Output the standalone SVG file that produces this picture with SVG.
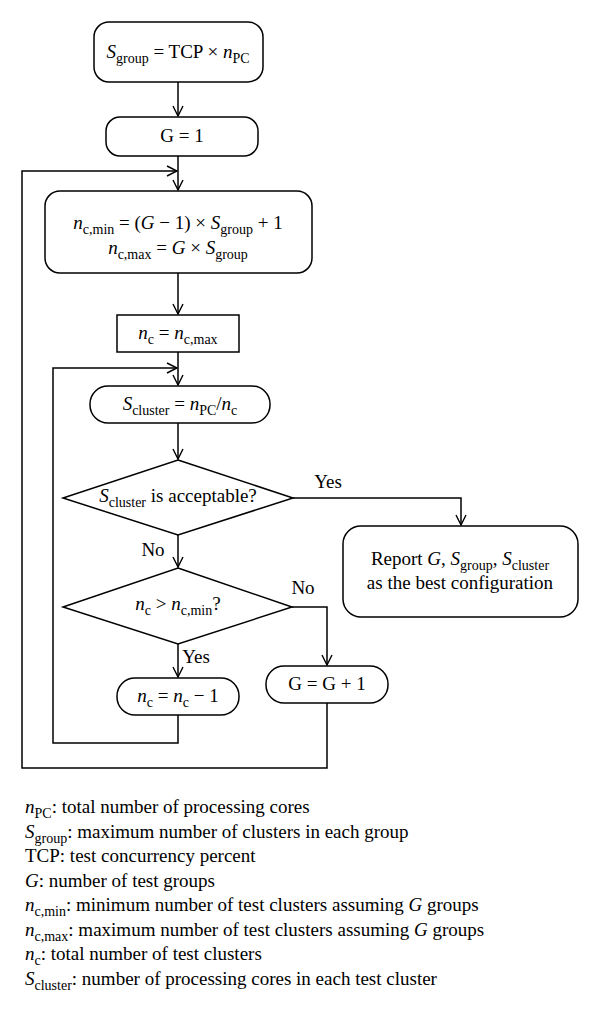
<svg xmlns="http://www.w3.org/2000/svg" width="600" height="1011" viewBox="0 0 600 1011">
<defs>
<marker id="arr" viewBox="0 0 12 12" refX="11" refY="6" markerWidth="12" markerHeight="12" markerUnits="userSpaceOnUse" orient="auto">
<path d="M1,1 L11,6 L1,11" fill="none" stroke="#000" stroke-width="1.4"/>
</marker>
<style>
.b{fill:#fff;stroke:#000;stroke-width:1.5}
.c{fill:none;stroke:#000;stroke-width:1.5}
text{font-family:"Liberation Serif","Times New Roman",serif;font-size:19px;fill:#000}
.m{text-anchor:middle}
.i{font-style:italic}
.s{font-size:14px}
</style>
</defs>
<rect width="600" height="1011" fill="#fff"/>
<g id="connectors">
<path class="c" d="M178,82 V116" marker-end="url(#arr)"/>
<path class="c" d="M178,156 V190" marker-end="url(#arr)"/>
<path class="c" d="M178,273 V314" marker-end="url(#arr)"/>
<path class="c" d="M178,352 V385" marker-end="url(#arr)"/>
<path class="c" d="M178,423 V459" marker-end="url(#arr)"/>
<path class="c" d="M178,535 V567" marker-end="url(#arr)"/>
<path class="c" d="M178,644 V677" marker-end="url(#arr)"/>
<path class="c" d="M293,498 H461 V525" marker-end="url(#arr)"/>
<path class="c" d="M292,607 H327 V665" marker-end="url(#arr)"/>
<path class="c" d="M178,715 V743 H53 V368 H177" marker-end="url(#arr)"/>
<path class="c" d="M327,703 V768 H22 V171 H177" marker-end="url(#arr)"/>
<text class="m" x="328" y="488">Yes</text>
<text class="m" x="153" y="556">No</text>
<text class="m" x="303" y="594">No</text>
<text class="m" x="196" y="663">Yes</text>
</g>
<g id="n1">
<rect class="b" x="94" y="22" width="169" height="60" rx="15"/>
<text class="m" x="178" y="58"><tspan class="i">S</tspan><tspan class="s" dy="5">group</tspan><tspan dy="-5"> = TCP × </tspan><tspan class="i">n</tspan><tspan class="s" dy="5">PC</tspan></text>
</g>
<g id="n2">
<rect class="b" x="106" y="117" width="152" height="39" rx="14"/>
<text class="m" x="182" y="142">G = 1</text>
</g>
<g id="n3">
<rect class="b" x="45" y="191" width="267" height="82" rx="15"/>
<text class="m" x="178" y="229"><tspan class="i">n</tspan><tspan class="s" dy="5">c,min</tspan><tspan dy="-5"> = (</tspan><tspan class="i">G</tspan><tspan> − 1) × </tspan><tspan class="i">S</tspan><tspan class="s" dy="5">group</tspan><tspan dy="-5"> + 1</tspan></text>
<text class="m" x="178" y="254"><tspan class="i">n</tspan><tspan class="s" dy="5">c,max</tspan><tspan dy="-5"> = </tspan><tspan class="i">G</tspan><tspan> × </tspan><tspan class="i">S</tspan><tspan class="s" dy="5">group</tspan></text>
</g>
<g id="n4">
<rect class="b" x="117" y="315" width="122" height="37"/>
<text class="m" x="178" y="339"><tspan class="i">n</tspan><tspan class="s" dy="5">c</tspan><tspan dy="-5"> =  </tspan><tspan class="i">n</tspan><tspan class="s" dy="5">c,max</tspan></text>
</g>
<g id="n5">
<rect class="b" x="90" y="386" width="180" height="37" rx="18"/>
<text class="m" x="180" y="410"><tspan class="i">S</tspan><tspan class="s" dy="5">cluster</tspan><tspan dy="-5"> = </tspan><tspan class="i">n</tspan><tspan class="s" dy="5">PC</tspan><tspan dy="-5">/</tspan><tspan class="i">n</tspan><tspan class="s" dy="5">c</tspan></text>
</g>
<g id="d1">
<polygon class="b" points="178,460 293,498 178,535 63,498"/>
<text class="m" x="178" y="502"><tspan class="i">S</tspan><tspan class="s" dy="5">cluster</tspan><tspan dy="-5"> is acceptable?</tspan></text>
</g>
<g id="report">
<rect class="b" x="343" y="526" width="235" height="91" rx="18"/>
<text class="m" x="460" y="565">Report <tspan class="i">G</tspan>, <tspan class="i">S</tspan><tspan class="s" dy="5">group</tspan><tspan dy="-5">, </tspan><tspan class="i">S</tspan><tspan class="s" dy="5">cluster</tspan></text>
<text class="m" x="460" y="589">as the best configuration</text>
</g>
<g id="d2">
<polygon class="b" points="178,568 292,607 178,644 63,607"/>
<text class="m" x="178" y="610"><tspan class="i">n</tspan><tspan class="s" dy="5">c</tspan><tspan dy="-5"> &gt; </tspan><tspan class="i">n</tspan><tspan class="s" dy="5">c,min</tspan><tspan dy="-5">?</tspan></text>
</g>
<g id="n6">
<rect class="b" x="117" y="678" width="122" height="37" rx="18"/>
<text class="m" x="178" y="702"><tspan class="i">n</tspan><tspan class="s" dy="5">c</tspan><tspan dy="-5"> = </tspan><tspan class="i">n</tspan><tspan class="s" dy="5">c</tspan><tspan dy="-5"> − 1</tspan></text>
</g>
<g id="n7">
<rect class="b" x="266" y="666" width="122" height="37" rx="18"/>
<text class="m" x="327" y="690">G = G + 1</text>
</g>
<g id="legend">
<text x="25" y="813"><tspan class="i">n</tspan><tspan class="s" dy="5">PC</tspan><tspan dy="-5">: total number of processing cores</tspan></text>
<text x="25" y="837.5"><tspan class="i">S</tspan><tspan class="s" dy="5">group</tspan><tspan dy="-5">: maximum number of clusters in each group</tspan></text>
<text x="25" y="862">TCP: test concurrency percent</text>
<text x="25" y="886.5"><tspan class="i">G</tspan>: number of test groups</text>
<text x="25" y="911"><tspan class="i">n</tspan><tspan class="s" dy="5">c,min</tspan><tspan dy="-5">: minimum number of test clusters assuming </tspan><tspan class="i">G</tspan><tspan> groups</tspan></text>
<text x="25" y="935.5"><tspan class="i">n</tspan><tspan class="s" dy="5">c,max</tspan><tspan dy="-5">: maximum number of test clusters assuming </tspan><tspan class="i">G</tspan><tspan> groups</tspan></text>
<text x="25" y="960"><tspan class="i">n</tspan><tspan class="s" dy="5">c</tspan><tspan dy="-5">: total number of test clusters</tspan></text>
<text x="25" y="984.5"><tspan class="i">S</tspan><tspan class="s" dy="5">cluster</tspan><tspan dy="-5">: number of processing cores in each test cluster</tspan></text>
</g>
</svg>
